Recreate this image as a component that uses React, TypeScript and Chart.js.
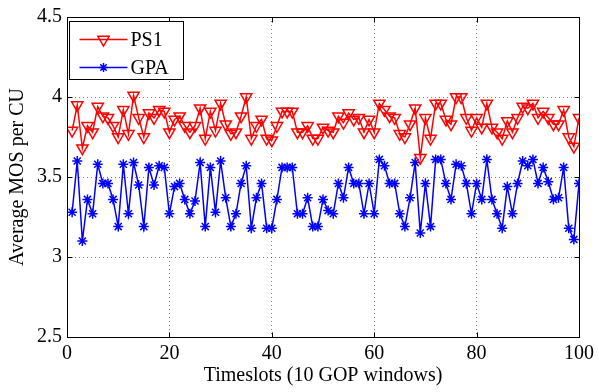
import React, { useEffect, useRef } from "react";
import { Chart, registerables } from "chart.js";

Chart.register(...registerables);

// Timeslot index (x) for every sample
const timeslots = [
  1, 2, 3, 4, 5, 6, 7, 8, 9, 10, 11, 12, 13, 14, 15, 16, 17, 18, 19, 20,
  21, 22, 23, 24, 25, 26, 27, 28, 29, 30, 31, 32, 33, 34, 35, 36, 37, 38, 39, 40,
  41, 42, 43, 44, 45, 46, 47, 48, 49, 50, 51, 52, 53, 54, 55, 56, 57, 58, 59, 60,
  61, 62, 63, 64, 65, 66, 67, 68, 69, 70, 71, 72, 73, 74, 75, 76, 77, 78, 79, 80,
  81, 82, 83, 84, 85, 86, 87, 88, 89, 90, 91, 92, 93, 94, 95, 96, 97, 98, 99, 100,
];

// Average MOS per CU, PS1 scheme
const ps1 = [
  3.79, 3.95, 3.68, 3.82, 3.78, 3.94, 3.88, 3.87, 3.82, 3.75,
  3.92, 3.77, 4.01, 3.87, 3.75, 3.9, 3.87, 3.92, 3.91, 3.78,
  3.86, 3.88, 3.82, 3.78, 3.82, 3.93, 3.74, 3.91, 3.79, 3.96,
  3.83, 3.77, 3.78, 3.88, 4.0, 3.74, 3.82, 3.86, 3.74, 3.73,
  3.82, 3.91, 3.91, 3.91, 3.78, 3.78, 3.82, 3.74, 3.74, 3.81,
  3.79, 3.78, 3.88, 3.84, 3.9, 3.86, 3.87, 3.78, 3.86, 3.78,
  3.96, 3.92, 3.88, 3.87, 3.77, 3.75, 3.83, 3.93, 3.62, 3.87,
  3.74, 3.96, 3.96, 3.86, 3.83, 4.0, 4.0, 3.87, 3.79, 3.87,
  3.81, 3.96, 3.81, 3.78, 3.74, 3.85, 3.78, 3.87, 3.94, 3.93,
  3.96, 3.87, 3.91, 3.87, 3.83, 3.83, 3.92, 3.75, 3.69, 3.87,
];

// Average MOS per CU, GPA scheme
const gpa = [
  3.28, 3.6, 3.1, 3.36, 3.27, 3.58, 3.46, 3.46, 3.36, 3.19,
  3.58, 3.27, 3.59, 3.45, 3.19, 3.56, 3.45, 3.57, 3.56, 3.27,
  3.44, 3.46, 3.36, 3.27, 3.35, 3.59, 3.19, 3.56, 3.28, 3.6,
  3.37, 3.19, 3.27, 3.46, 3.57, 3.18, 3.37, 3.46, 3.18, 3.18,
  3.36, 3.56, 3.56, 3.56, 3.27, 3.27, 3.37, 3.19, 3.19, 3.36,
  3.29, 3.27, 3.46, 3.37, 3.56, 3.46, 3.46, 3.27, 3.46, 3.27,
  3.61, 3.57, 3.46, 3.46, 3.27, 3.19, 3.37, 3.59, 3.15, 3.46,
  3.19, 3.61, 3.61, 3.46, 3.36, 3.58, 3.57, 3.46, 3.27, 3.46,
  3.36, 3.61, 3.36, 3.27, 3.18, 3.44, 3.27, 3.46, 3.6, 3.57,
  3.61, 3.46, 3.56, 3.47, 3.36, 3.37, 3.56, 3.18, 3.11, 3.46,
];

const xRange = [0, 100];
const xStep = 20;
const yRange = [2.5, 4.5];
const yStep = 0.5;

const seriesNames = ["PS1", "GPA"];
const seriesColors = ["#ff0000", "#0000ff"];

const FONT = { family: '"Liberation Serif", "Times New Roman", serif', size: 20 };
const GRID = "rgba(0,0,0,0.5)";

function toPoints(values: number[]) {
  return values.map((v, i) => ({ x: timeslots[i], y: v }));
}

function drawTriangleDown(ctx: CanvasRenderingContext2D, x: number, y: number, r: number) {
  ctx.beginPath();
  for (let k = 0; k < 3; k++) {
    const a = Math.PI + (k * 2 * Math.PI) / 3;
    const px = x + Math.sin(a) * r;
    const py = y - Math.cos(a) * r;
    if (k === 0) ctx.moveTo(px, py);
    else ctx.lineTo(px, py);
  }
  ctx.closePath();
  ctx.stroke();
}

function drawStar(ctx: CanvasRenderingContext2D, x: number, y: number, r: number) {
  ctx.beginPath();
  for (let k = 0; k < 4; k++) {
    const a = (k * Math.PI) / 4;
    ctx.moveTo(x - Math.cos(a) * r, y - Math.sin(a) * r);
    ctx.lineTo(x + Math.cos(a) * r, y + Math.sin(a) * r);
  }
  ctx.stroke();
}

// Axes box with inward tick marks on all four sides
const boxPlugin = {
  id: "axesBox",
  afterDatasetsDraw(chart: any) {
    const { ctx, chartArea, scales } = chart;
    const l = Math.round(chartArea.left) + 0.5;
    const r = Math.round(chartArea.right) + 0.5;
    const t = Math.round(chartArea.top) + 0.5;
    const b = Math.round(chartArea.bottom) + 0.5;
    const tl = 5;
    ctx.save();
    ctx.strokeStyle = "#000";
    ctx.lineWidth = 1;
    ctx.setLineDash([]);
    ctx.strokeRect(l, t, r - l, b - t);
    ctx.beginPath();
    for (let v = xRange[0]; v <= xRange[1]; v += xStep) {
      const x = Math.round(scales.x.getPixelForValue(v)) + 0.5;
      ctx.moveTo(x, b);
      ctx.lineTo(x, b - tl);
      ctx.moveTo(x, t);
      ctx.lineTo(x, t + tl);
    }
    for (let v = yRange[0]; v <= yRange[1] + 1e-9; v += yStep) {
      const y = Math.round(scales.y.getPixelForValue(v)) + 0.5;
      ctx.moveTo(l, y);
      ctx.lineTo(l + tl, y);
      ctx.moveTo(r, y);
      ctx.lineTo(r - tl, y);
    }
    ctx.stroke();
    ctx.restore();
  },
};

// Boxed legend in the upper-left corner of the plot
const legendPlugin = {
  id: "boxLegend",
  afterDraw(chart: any) {
    const { ctx, chartArea } = chart;
    const bx = Math.round(chartArea.left) + 2.5;
    const by = Math.round(chartArea.top) + 4.5;
    const bw = 114;
    const bh = 58;
    ctx.save();
    ctx.fillStyle = "#fff";
    ctx.fillRect(bx, by, bw, bh);
    ctx.strokeStyle = "#000";
    ctx.lineWidth = 1;
    ctx.strokeRect(bx, by, bw, bh);
    ctx.font = `${FONT.size}px ${FONT.family}`;
    ctx.textBaseline = "middle";
    ctx.textAlign = "left";
    chart.data.datasets.forEach((ds: any, i: number) => {
      const y = by + 18 + i * 28;
      ctx.strokeStyle = ds.borderColor;
      ctx.lineWidth = 1.5;
      ctx.beginPath();
      ctx.moveTo(bx + 10, y);
      ctx.lineTo(bx + 58, y);
      ctx.stroke();
      if (i === 0) drawTriangleDown(ctx, bx + 34, y, 6.5);
      else drawStar(ctx, bx + 34, y, 4.5);
      ctx.fillStyle = "#000";
      ctx.fillText(ds.label, bx + 61, y + 1);
    });
    ctx.restore();
  },
};

export default function App() {
  const ref = useRef<HTMLCanvasElement>(null);

  useEffect(() => {
    if (!ref.current) return;
    const gridColor = (c: any) => {
      const v = c.tick ? c.tick.value : null;
      return v === xRange[0] || v === xRange[1] ? "rgba(0,0,0,0)" : GRID;
    };
    const gridColorY = (c: any) => {
      const v = c.tick ? c.tick.value : null;
      return v === yRange[0] || v === yRange[1] ? "rgba(0,0,0,0)" : GRID;
    };
    const chart = new Chart(ref.current, {
      type: "line",
      data: {
        datasets: [
          {
            label: seriesNames[0],
            data: toPoints(ps1),
            borderColor: seriesColors[0],
            backgroundColor: "rgba(0,0,0,0)",
            borderWidth: 1.5,
            pointStyle: "triangle",
            pointRotation: 180,
            pointRadius: 6.5,
            pointBorderWidth: 1.5,
            pointBorderColor: seriesColors[0],
            pointBackgroundColor: "rgba(0,0,0,0)",
            tension: 0,
          },
          {
            label: seriesNames[1],
            data: toPoints(gpa),
            borderColor: seriesColors[1],
            backgroundColor: "rgba(0,0,0,0)",
            borderWidth: 1.5,
            pointStyle: "star",
            pointRadius: 5,
            pointBorderWidth: 1.5,
            pointBorderColor: seriesColors[1],
            pointBackgroundColor: "rgba(0,0,0,0)",
            tension: 0,
          },
        ],
      },
      options: {
        animation: false,
        responsive: false,
        devicePixelRatio: 1,
        events: [],
        layout: { padding: { top: 11, right: 16, left: 0, bottom: 0 } },
        plugins: {
          legend: { display: false },
          tooltip: { enabled: false },
        },
        scales: {
          x: {
            type: "linear",
            min: xRange[0],
            max: xRange[1],
            ticks: {
              stepSize: xStep,
              color: "#000",
              font: FONT,
              padding: 5,
              maxRotation: 0,
              callback: (v: any) => String(Number(v)),
            },
            grid: { color: gridColor, drawTicks: false, lineWidth: 1 },
            border: { display: false, dash: [1, 3] },
            title: {
              display: true,
              text: "Timeslots (10 GOP windows)",
              color: "#000",
              font: FONT,
              padding: { top: 0, bottom: 4 },
            },
            afterFit: (s: any) => {
              s.height = 55;
            },
          },
          y: {
            type: "linear",
            min: yRange[0],
            max: yRange[1],
            ticks: {
              stepSize: yStep,
              color: "#000",
              font: FONT,
              padding: 5,
              callback: (v: any) => String(Number(v)),
            },
            grid: { color: gridColorY, drawTicks: false, lineWidth: 1 },
            border: { display: false, dash: [1, 3] },
            title: {
              display: true,
              text: "Average MOS per CU",
              color: "#000",
              font: FONT,
              padding: { top: 6, bottom: 0 },
            },
            afterFit: (s: any) => {
              s.width = 67;
            },
          },
        },
      } as any,
      plugins: [boxPlugin, legendPlugin],
    });
    return () => chart.destroy();
  }, []);

  return (
    <div style={{ position: "fixed", left: 0, top: 0, width: 599, height: 392, background: "#fff" }}>
      <canvas ref={ref} width={599} height={392} style={{ display: "block", width: 599, height: 392 }} />
    </div>
  );
}
